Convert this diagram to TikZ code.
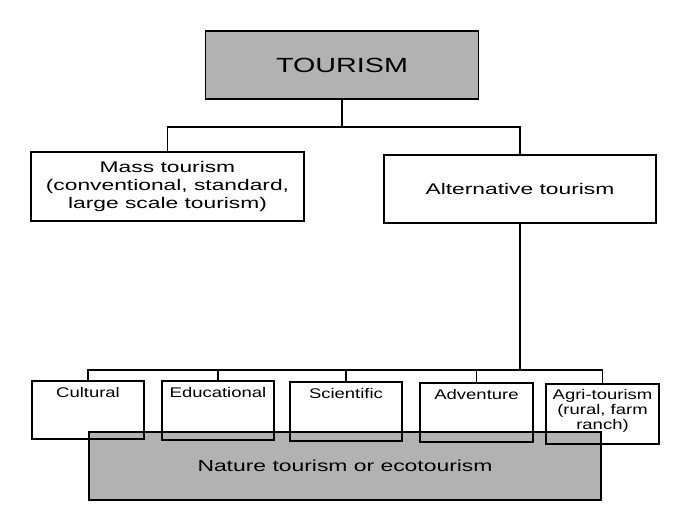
\documentclass[tikz,border=0pt]{standalone}
\usepackage{fontspec}
\setmainfont{Liberation Sans}
\usepackage{graphicx}
\newcommand{\hstr}[2]{\scalebox{#1}[1]{#2}}
\newcommand{\mlines}[1]{\begin{tabular}{@{}c@{}}#1\end{tabular}}
\begin{document}
\begin{tikzpicture}[x=1pt,y=-1pt,
  box/.style={draw=black, line width=1.8pt, rectangle, inner sep=0pt},
  shaded/.style={box, fill=black!30},
  conn/.style={draw=black, line width=1.6pt},
  catbox/.style={box, minimum width=112pt, minimum height=59pt},
  catlab/.style={anchor=north, inner sep=0pt, yshift=-7pt, font=\fontsize{14}{15}\selectfont}
]
\useasboundingbox (0,0) rectangle (691,518);
\node[shaded, minimum width=273pt, minimum height=68pt, font=\fontsize{20.5}{24}\selectfont] (tour) at (342,65) {\hstr{1.40}{TOURISM}};
\node[box, minimum width=273pt, minimum height=69pt, font=\fontsize{15.4}{18}\selectfont] (mass) at (167.5,186.5) {\hstr{1.48}{\mlines{Mass tourism\\(conventional, standard,\\large scale tourism)}}};
\node[box, minimum width=272pt, minimum height=68pt, font=\fontsize{15.4}{18}\selectfont] (alt) at (520,189) {\hstr{1.48}{Alternative tourism}};
\node[shaded, minimum width=512pt, minimum height=68pt, font=\fontsize{16}{19}\selectfont] (nat) at (345,466) {\hstr{1.43}{Nature tourism or ecotourism}};
\node[catbox, minimum height=58pt, label={[catlab]north:\hstr{1.32}{Cultural}}] (cul) at (88,410) {};
\node[catbox, label={[catlab]north:\hstr{1.32}{Educational}}] (edu) at (218,410.5) {};
\node[catbox, label={[catlab]north:\hstr{1.32}{Scientific}}] (sci) at (346,411.5) {};
\node[catbox, minimum width=113pt, label={[catlab]north:\hstr{1.32}{Adventure}}] (adv) at (476.5,412.5) {};
\node[catbox, minimum width=113pt, minimum height=60pt, label={[catlab, yshift=1pt]north:\hstr{1.32}{\mlines{Agri-tourism\\(rural, farm\\ranch)}}}] (agr) at (602.5,414) {};
\draw[conn] (tour.south) -- ++(0,27) coordinate (j1);
\draw[conn] (mass.north) |- (j1) -| (alt.north);
\draw[conn] (alt.south) -- ++(0,146) coordinate (bus);
\foreach \n in {cul,edu,sci,adv,agr} \draw[conn] (bus) -| (\n.north);
\end{tikzpicture}
\end{document}
